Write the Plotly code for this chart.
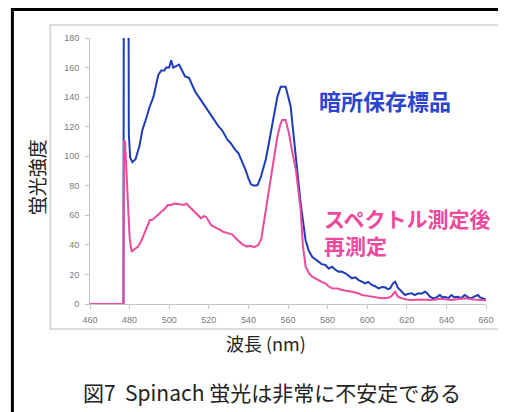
import plotly.graph_objects as go

# ---- data ----
wl_blue = [460, 476.9, 477.2, 479.2, 479.6, 480.3, 481.4, 483, 485, 486.5, 488, 490, 492, 493.5,
           494.5, 496, 497.5, 498.5, 500, 501, 502, 503.5, 505, 506.5, 508, 510, 511.5, 513, 515,
           517, 519, 521, 523, 525, 526.5, 528, 529.5, 531, 533, 535, 537, 538.5, 540, 541.3, 543,
           544.6, 546.3, 548.8, 550.5, 552.1, 554.6, 556.3, 558.8, 561.3, 563.9, 566.4, 568.9,
           570.5, 572.2, 574, 575.6, 577, 578.9, 580.5, 582.3, 584, 585.6, 587, 589, 590.5, 592.3,
           594, 595.7, 597.5, 599, 600.5, 602.3, 604, 605.7, 607.5, 609, 610.5, 611.6, 613, 614.1,
           615.5, 616.6, 618, 619.1, 621, 622.5, 624, 625.8, 627.5, 629.2, 630.5, 631.7, 633,
           634.2, 635.5, 636.7, 638, 639.2, 641, 642.5, 644, 645.9, 647.5, 649.3, 651, 652.6, 654,
           656, 657, 658.5, 660]
val_blue = [0, 0, 400, 400, 115, 99, 96, 98, 107, 118, 124, 133, 140, 150,
            155, 158, 158, 160, 160, 165, 160, 161, 162, 158, 154, 153, 148, 144, 140,
            136, 132, 128, 124, 120, 118, 114, 111, 109, 105, 102, 96, 91, 85, 81, 80,
            80.5, 86, 98, 110, 122, 140, 147, 147, 134, 102, 68, 43,
            36, 32, 30, 28.6, 27, 26.4, 24, 25.2, 23, 21.9, 22, 20.8, 19, 17.4,
            18, 16.2, 15, 14, 15, 12.9, 12, 10.6, 11.5, 11.3, 10, 10.6, 14, 15.1,
            11, 9.5, 8, 6.1, 7, 7.2, 6, 7.2, 7, 8.3, 7, 4.9, 4,
            3.9, 5, 6.1, 4.5, 4.9, 4, 6.1, 4.5, 4.9, 4, 6.1, 4.5, 3.9, 5,
            6.1, 4.5, 3.9, 3]

wl_pink = [460, 476.9, 477.2, 477.7, 480, 481, 482.5, 484.3, 486, 487.6, 489, 490.2, 491.5, 493.5,
           495, 496, 497.5, 499.3, 501, 502.7, 504.5, 506, 507.5, 508.6, 510, 511.9, 513.5, 515,
           516.1, 517.5, 518.6, 520, 521.1, 523, 524.5, 526, 527, 529, 532, 534, 535.5, 537, 539,
           541.3, 543, 545, 546.5, 548.8, 550.5, 552, 553.5, 554.6, 556, 557, 558.8, 560.5, 562,
           564, 566.4, 567.5, 568.9, 570.5, 572.2, 574, 575.6, 577, 578.9, 580.5, 582.3, 585,
           587.3, 590, 592.3, 595, 597.4, 600, 602.4, 605, 607.4, 610, 612, 614.1, 615.5, 617.5,
           620, 622.5, 627, 632.6, 637, 642.6, 646, 649.3, 654, 658.5, 660]
val_pink = [0, 0, 110, 110, 45, 35.4, 37, 38.8, 43, 47.8, 52, 56.8, 57, 59,
            61, 62.5, 64, 67, 67, 68, 67.5, 67, 67, 68, 66, 63.6, 61, 59,
            58, 59.5, 59, 56, 53.5, 52, 51.2, 50, 49, 48, 47, 44, 42, 40.4, 39,
            39.2, 38.5, 40, 44, 63.6, 78, 90.7, 103, 113, 121, 124.5, 124.5, 115.5, 104,
            90.7, 63.6, 40, 25.2, 21, 18.5, 17, 16.2, 15, 14, 12, 10.6, 10.5,
            9.5, 9, 8.3, 7.5, 6.1, 5.5, 4.9, 4.5, 3.9, 4, 5, 8.3, 5, 3.9,
            3, 2.7, 3, 2.7, 3.5, 2.7, 3.2, 3.9, 3, 2.7, 2.5]

x_ticks = [460, 480, 500, 520, 540, 560, 580, 600, 620, 640, 660]
y_ticks = [0, 20, 40, 60, 80, 100, 120, 140, 160, 180]

label_blue = "暗所保存標品"
label_pink = "スペクトル測定後<br>再測定"
x_title = "波長 (nm)"
y_title = "蛍光強度"
caption = "図7  Spinach 蛍光は非常に不安定である"

BLUE = "#1f3cb8"
BLUE_TEXT = "#2c44d0"
PINK = "#ec4a9c"
JP = "Noto Sans CJK JP"

# ---- layout geometry (window pixels; page body has an 8px margin) ----
OFF = 8
W, H = 506 - OFF, 412 - OFF
L, R, T, B = 90 - OFF, 488 - OFF, 38 - OFF, 304 - OFF  # plot area in figure pixels


def px(x):
    return (x - OFF - L) / (R - L)


def py(y):
    return (B - (y - OFF)) / (B - T)


fig = go.Figure()
fig.add_trace(go.Scatter(x=wl_blue, y=val_blue, mode="lines",
                         line=dict(color=BLUE, width=2), showlegend=False))
fig.add_trace(go.Scatter(x=wl_pink, y=val_pink, mode="lines",
                         line=dict(color=PINK, width=2), showlegend=False))

axis_common = dict(showline=True, linecolor="#c4c4c4", linewidth=1, ticks="outside",
                   tickcolor="#c4c4c4", ticklen=4, showgrid=False, zeroline=False,
                   tickfont=dict(family="Liberation Sans", size=9, color="#7a7a7a"))

fig.update_layout(
    width=W, height=H,
    margin=dict(l=L, r=W - R, t=T, b=H - B, pad=0),
    paper_bgcolor="white", plot_bgcolor="white",
    xaxis=dict(range=[460, 660], tickvals=x_ticks, ticklabelstandoff=3, **axis_common),
    yaxis=dict(range=[0, 180], tickvals=y_ticks, ticklabelstandoff=4, **axis_common),
    shapes=[
        dict(type="rect", xref="paper", yref="paper",
             x0=px(50), x1=px(505), y0=py(25), y1=py(329),
             line=dict(color="#d0d0d0", width=1.5), layer="below"),
        dict(type="rect", xref="paper", yref="paper",
             x0=px(12), x1=px(530), y0=py(9.5), y1=py(440),
             line=dict(color="black", width=3), layer="below"),
    ],
    annotations=[
        dict(text=label_blue, xref="paper", yref="paper", x=px(318), y=py(100),
             xanchor="left", yanchor="middle", showarrow=False,
             font=dict(family=JP, size=22, color=BLUE_TEXT, weight="bold")),
        dict(text=label_pink, xref="paper", yref="paper", x=px(323), y=py(231),
             xanchor="left", yanchor="middle", showarrow=False, align="left",
             font=dict(family=JP, size=21, color=PINK, weight="bold")),
        dict(text=x_title, xref="paper", yref="paper", x=px(267), y=py(343),
             xanchor="center", yanchor="middle", showarrow=False,
             font=dict(family=JP, size=18, color="#222222")),
        dict(text=y_title, xref="paper", yref="paper", x=px(37), y=py(177),
             xanchor="center", yanchor="middle", showarrow=False, textangle=-90,
             font=dict(family=JP, size=19, color="#222222")),
        dict(text=caption, xref="paper", yref="paper", x=px(273), y=py(392),
             xanchor="center", yanchor="middle", showarrow=False,
             font=dict(family=JP, size=21, color="#222222")),
    ],
)

fig.write_html("out.html")
